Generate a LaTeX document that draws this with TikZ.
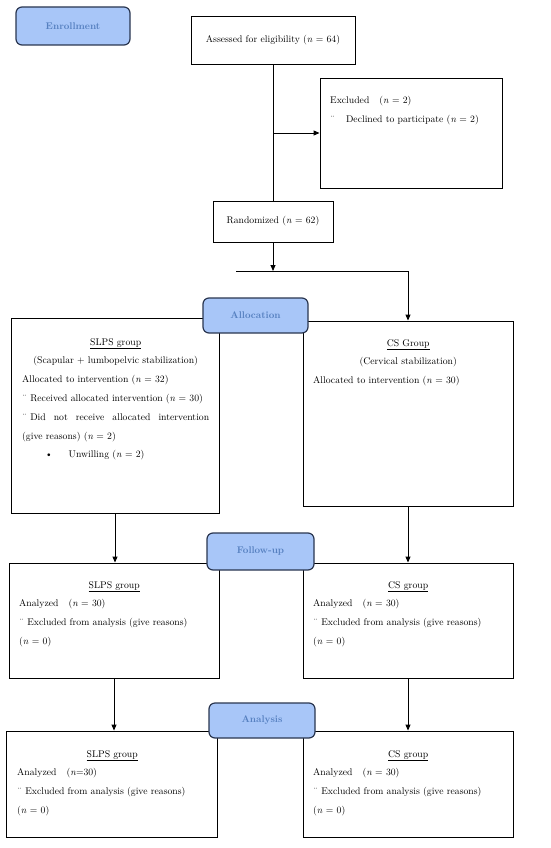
\documentclass[tikz,border=0pt]{standalone}
\usepackage{fontspec}
\usetikzlibrary{arrows.meta}
\definecolor{lblfill}{HTML}{A8C6F8}
\definecolor{lbldraw}{HTML}{2A3650}
\definecolor{lbltext}{HTML}{5680C0}
\begin{document}
\begin{tikzpicture}[x=1pt,y=-1pt,
  box/.style={draw=black, line width=0.9pt, fill=white, inner sep=0pt},
  lbl/.style={draw=lbldraw, line width=1.2pt, fill=lblfill, rounded corners=6pt,
    text=lbltext, font=\fontsize{9.7}{12}\selectfont\bfseries, inner sep=0pt},
  txt/.style={inner sep=0pt, anchor=north west, align=left,
    font=\fontsize{9.7}{18.8}\selectfont},
  ctxt/.style={inner sep=0pt, font=\fontsize{9.7}{12}\selectfont},
  arr/.style={line width=0.9pt, -{Triangle[length=6pt,width=5pt]}},
  ln/.style={line width=0.9pt}]
\useasboundingbox[fill=white] (0,0) rectangle (550,848);

% boxes
\node[box, minimum width=164pt, minimum height=48pt] (assess) at (273,40) {};
\node[box, minimum width=182pt, minimum height=110pt] (excl) at (411,133) {};
\node[box, minimum width=120pt, minimum height=41pt] (rand) at (273,221.5) {};
\node[box, minimum width=208pt, minimum height=195pt] (slpsA) at (115,415.5) {};
\node[box, minimum width=210pt, minimum height=185pt] (csA) at (408,413.5) {};
\node[box, minimum width=210pt, minimum height=115pt] (slpsF) at (114,620.5) {};
\node[box, minimum width=210pt, minimum height=115pt] (csF) at (408,620.5) {};
\node[box, minimum width=211pt, minimum height=106pt] (slpsN) at (111.5,784) {};
\node[box, minimum width=210pt, minimum height=106pt] (csN) at (408,784) {};

% connectors
\coordinate (splitL) at (236,271);
\coordinate (splitR) at (408,271);
\coordinate (split) at (rand.south |- splitL);
\draw[ln] (assess.south) -- (rand.north);
\draw[arr] (assess.south |- excl.west) -- (excl.west);
\draw[arr] (rand.south) -- (split);
\draw[ln] (splitL) -- (splitR);
\draw[arr] (splitR) -- (csA.north);
\draw[arr] (slpsA.south) -- (slpsA.south |- slpsF.north);
\draw[arr] (csA.south) -- (csA.south |- csF.north);
\draw[arr] (slpsF.south) -- (slpsF.south |- slpsN.north);
\draw[arr] (csF.south) -- (csF.south |- csN.north);

% stage labels
\node[lbl, minimum width=114pt, minimum height=38pt] (enroll) at (73,26) {Enrollment};
\node[lbl, minimum width=105pt, minimum height=35pt] (alloc) at (255.5,315.5) {Allocation};
\node[lbl, minimum width=107pt, minimum height=37pt] (follow) at (260.5,551.5) {Follow-up};
\node[lbl, minimum width=106pt, minimum height=35pt] (anal) at (262,720.5) {Analysis};

% texts
\node[ctxt] (assessT) at (assess.center) {Assessed for eligibility (\textit{n} = 64)};
\node[ctxt] (randT) at (rand.center) {Randomized (\textit{n} = 62)};
\node[txt, text width=170pt] (exclT) at (330,96)
  {Excluded\hspace{10pt}(\textit{n} = 2)\\
   ¨\hspace{11pt}Declined to participate (\textit{n} = 2)};
\node[txt, text width=187pt] (slpsAT) at (22,338)
  {\makebox[187pt]{\underline{SLPS group}}\\
   \makebox[187pt]{(Scapular + lumbopelvic stabilization)}\\
   Allocated to intervention (\textit{n} = 32)\\
   ¨ Received allocated intervention (\textit{n} = 30)\\
   \makebox[187pt][l]{¨ Did\hfill not\hfill receive\hfill allocated\hfill intervention}\\
   (give reasons) (\textit{n} = 2)\\
   \hspace*{23pt}\textbullet\hspace{16pt}Unwilling (\textit{n} = 2)};
\node[txt, text width=190pt] (csAT) at (313,339)
  {\makebox[190pt]{\underline{CS Group}}\\
   \makebox[190pt]{(Cervical stabilization)}\\
   Allocated to intervention (\textit{n} = 30)};
\node[txt, text width=190pt] (slpsFT) at (19,581)
  {\makebox[190pt]{\underline{SLPS group}}\\
   Analyzed\hspace{10pt}(\textit{n} = 30)\\
   ¨ Excluded from analysis (give reasons)\\
   (\textit{n} = 0)};
\node[txt, text width=190pt] (csFT) at (313,581)
  {\makebox[190pt]{\underline{CS group}}\\
   Analyzed\hspace{10pt}(\textit{n} = 30)\\
   ¨ Excluded from analysis (give reasons)\\
   (\textit{n} = 0)};
\node[txt, text width=190pt] (slpsNT) at (17,750)
  {\makebox[190pt]{\underline{SLPS group}}\\
   Analyzed\hspace{10pt}(\textit{n}=30)\\
   ¨ Excluded from analysis (give reasons)\\
   (\textit{n} = 0)};
\node[txt, text width=190pt] (csNT) at (313,750)
  {\makebox[190pt]{\underline{CS group}}\\
   Analyzed\hspace{10pt}(\textit{n} = 30)\\
   ¨ Excluded from analysis (give reasons)\\
   (\textit{n} = 0)};
\end{tikzpicture}
\end{document}
